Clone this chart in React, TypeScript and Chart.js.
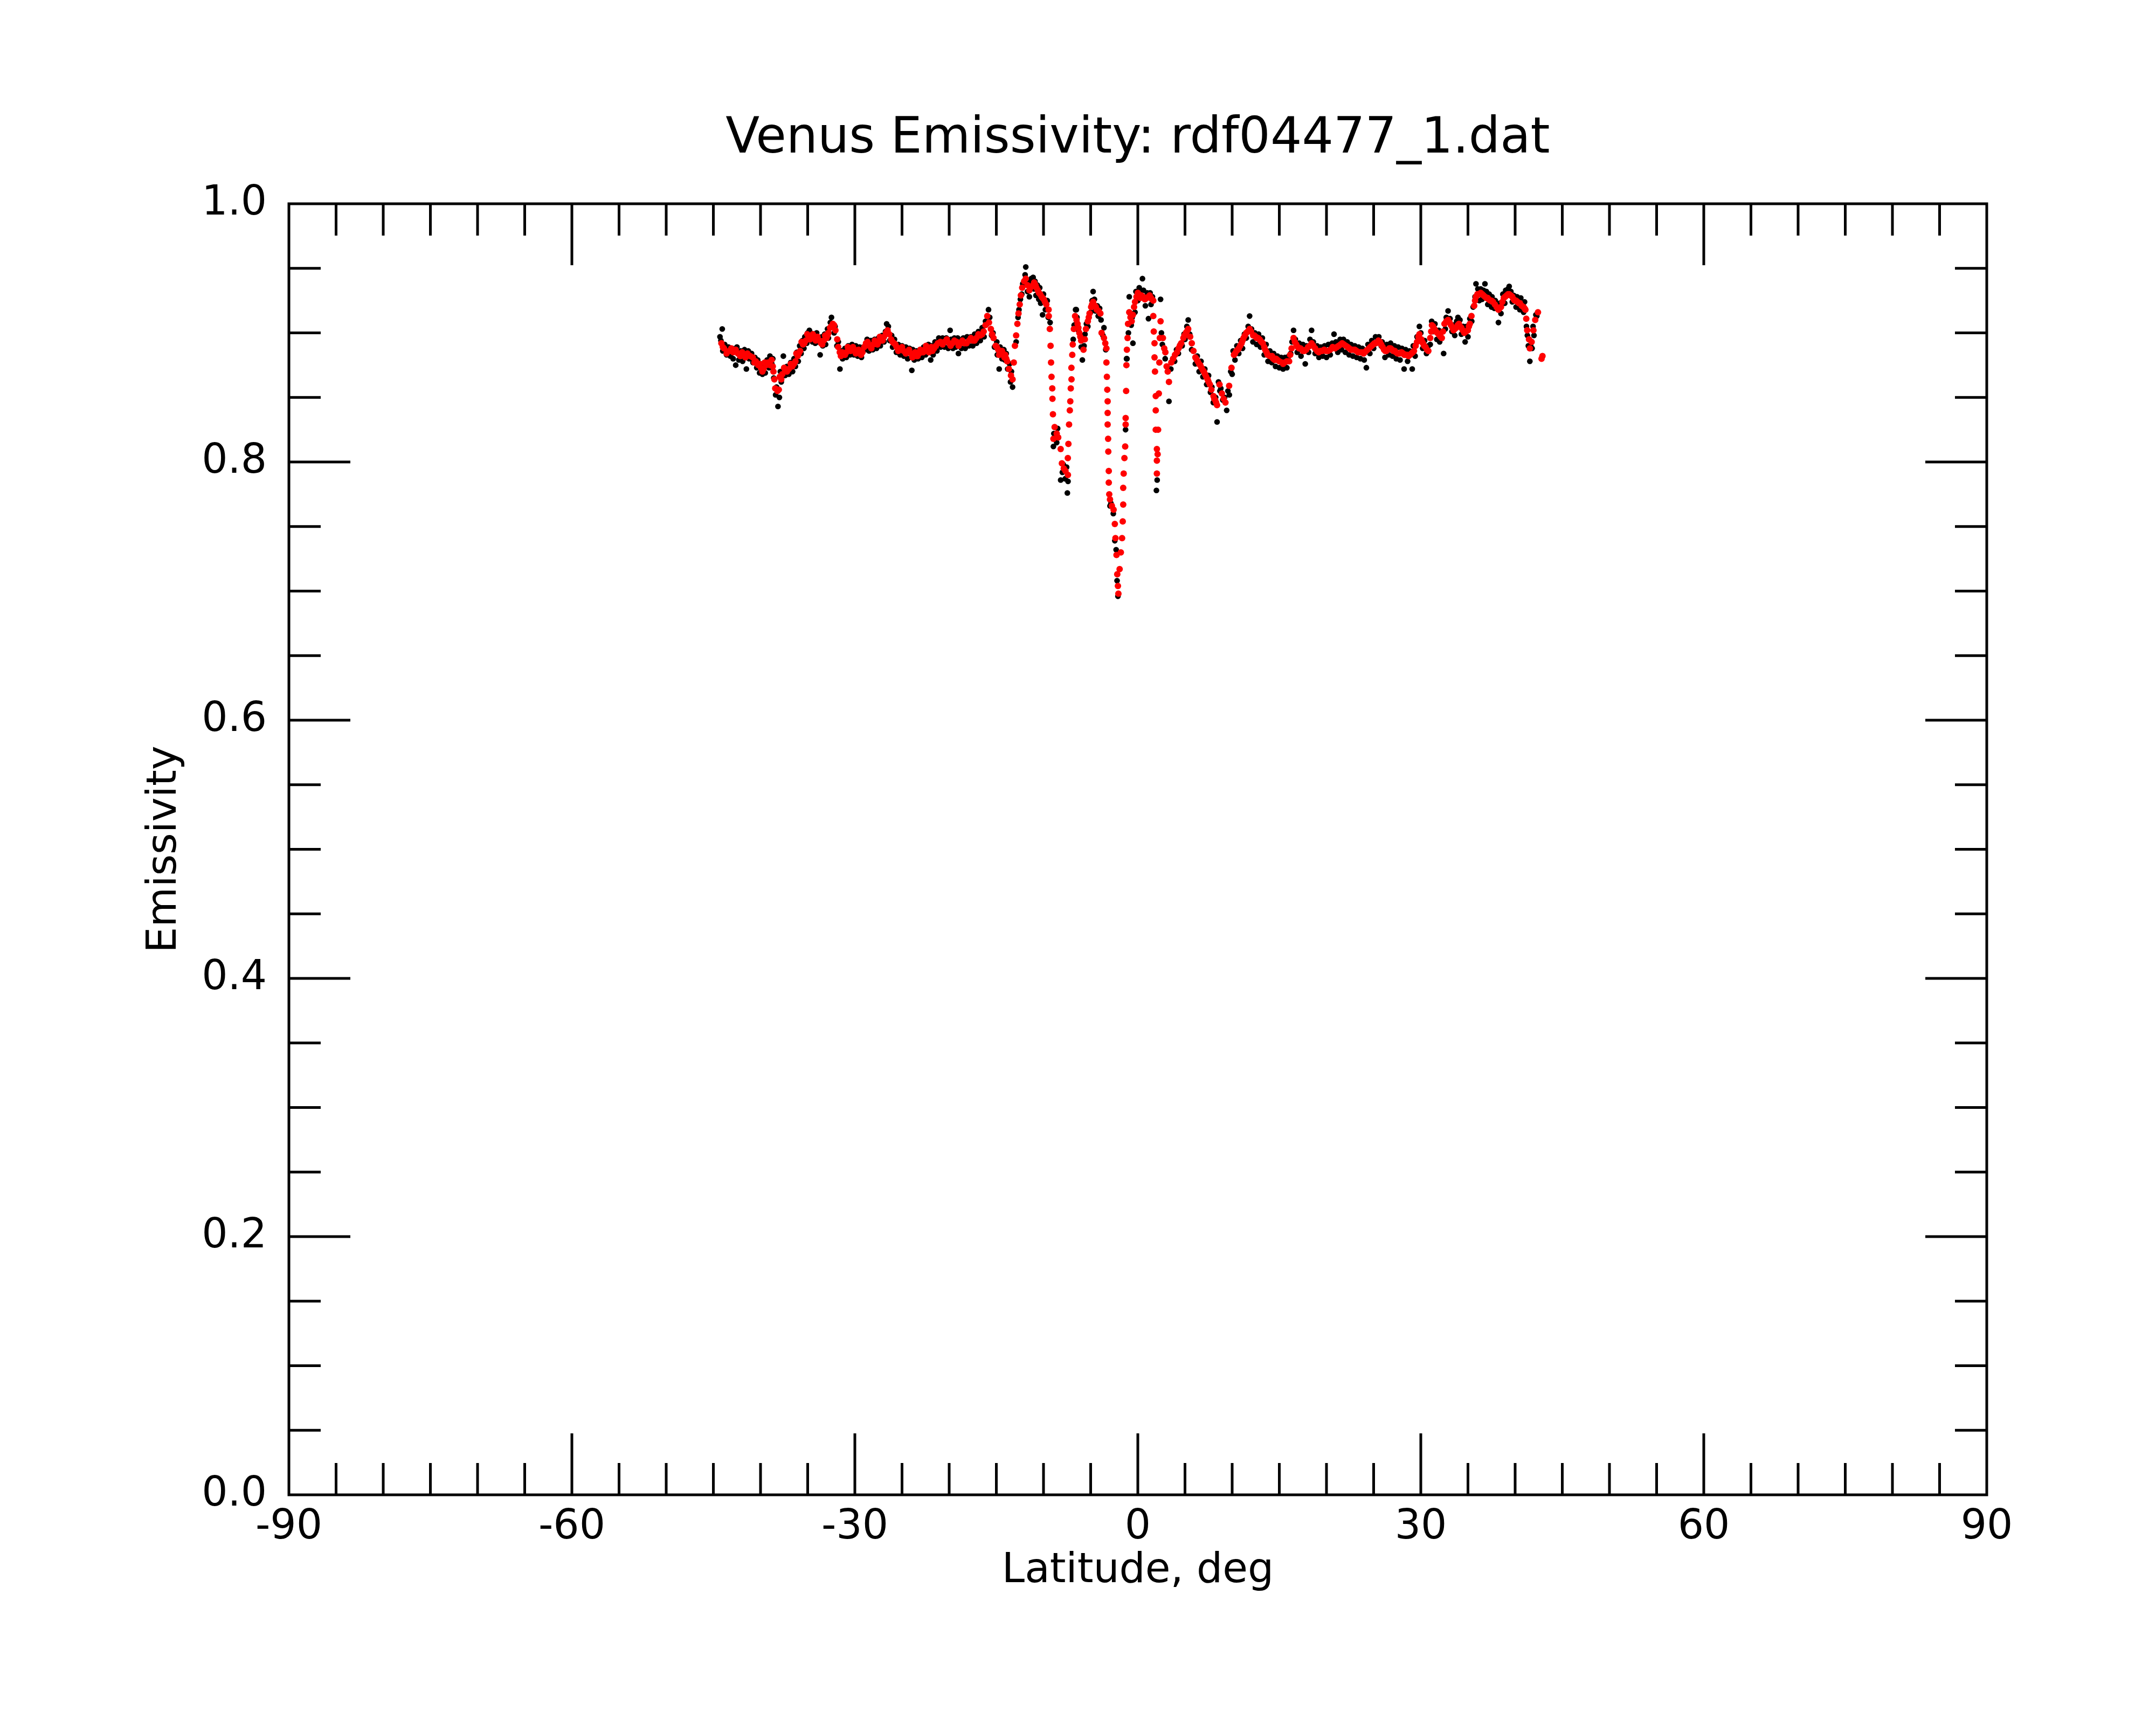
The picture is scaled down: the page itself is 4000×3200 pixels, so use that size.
import { useEffect, useRef } from "react";
import { Chart, registerables } from "chart.js";
import type { Plugin } from "chart.js";

Chart.register(...registerables);

// smoothed emissivity (red)
const redLat = [
  -44.15, -43.87, -43.3, -42.9, -42.63, -42.15, -41.8, -41.39, -40.82, -40.5, -40.25, -39.95,
  -39.68, -39.4, -39.2, -38.82, -38.63, -38.53, -38.44, -38.2, -38.06, -37.96, -37.7, -37.39,
  -37.0, -36.63, -36.3, -36.06, -35.8, -35.5, -35.2, -34.9, -34.6, -34.34, -33.96, -33.58,
  -33.3, -33.0, -32.8, -32.63, -32.34, -32.06, -31.87, -31.77, -31.48, -31.2, -30.91, -30.6,
  -30.34, -30.05, -29.77, -29.5, -29.2, -28.82, -28.45, -28.06, -27.75, -27.49, -27.2, -26.91,
  -26.53, -26.15, -25.85, -25.58, -25.2, -24.82, -24.45, -24.06, -23.75, -23.49, -23.2, -22.92,
  -22.6, -22.34, -22.0, -21.77, -21.4, -20.94, -20.5, -20.0, -19.66, -19.2, -18.8, -18.38,
  -17.9, -17.5, -17.11, -16.7, -16.34, -15.96, -15.78, -15.58, -15.3, -15.07, -14.8, -14.56,
  -14.3, -14.05, -13.85, -13.67, -13.45, -13.28, -13.15, -13.03, -12.9, -12.77, -12.65, -12.52,
  -12.4, -12.26, -12.05, -11.88, -11.7, -11.5, -11.25, -10.99, -10.75, -10.48, -10.2, -9.97,
  -9.7, -9.46, -9.44, -9.33, -9.25, -9.2, -9.15, -9.07, -9.05, -9.0, -8.95, -8.82,
  -8.6, -8.44, -8.18, -8.05, -7.85, -7.67, -7.41, -7.42, -7.36, -7.29, -7.21, -7.16,
  -7.11, -7.03, -7.04, -6.95, -6.9, -6.78, -6.65, -6.5, -6.39, -6.2, -6.01, -5.76,
  -5.62, -5.5, -5.3, -5.12, -4.95, -4.74, -4.55, -4.35, -3.97, -3.84, -3.59, -3.45,
  -3.33, -3.33, -3.28, -3.24, -3.2, -3.2, -3.2, -3.15, -3.13, -3.08, -3.08, -3.03,
  -2.95, -2.75, -2.57, -2.44, -2.37, -2.26, -2.18, -2.11, -2.06, -1.93, -1.8, -1.67,
  -1.6, -1.55, -1.55, -1.5, -1.42, -1.34, -1.29, -1.29, -1.24, -1.21, -1.16, -1.09,
  -1.04, -0.91, -0.78, -0.65, -0.52, -0.4, -0.14, 0.1, 0.37, 0.75, 1.13, 1.4,
  1.64, 1.64, 1.69, 1.77, 1.77, 1.82, 1.9, 1.9, 1.9, 2.02, 2.02, 2.02,
  2.1, 2.15, 2.23, 2.28, 2.33, 2.41, 2.66, 2.92, 3.17, 3.3, 3.55, 3.94,
  4.32, 4.6, 4.83, 5.1, 5.34, 5.72, 6.1, 6.35, 6.62, 6.9, 7.13, 7.4,
  7.64, 8.02, 8.2, 8.4, 8.66, 8.91, 9.1, 9.29, 9.68, 9.93, 10.19, 10.45,
  10.7, 11.0, 11.21, 11.5, 11.85, 12.23, 12.5, 12.74, 13.0, 13.25, 13.5, 13.76,
  14.23, 14.52, 14.8, 15.29, 15.56, 16.04, 16.3, 16.51, 16.8, 17.09, 17.4, 17.66,
  18.05, 18.42, 18.8, 19.18, 19.55, 19.94, 20.4, 20.9, 21.3, 21.66, 22.05, 22.42,
  22.8, 23.18, 23.55, 23.94, 24.2, 24.51, 24.8, 25.09, 25.4, 25.66, 25.95, 26.23,
  26.5, 26.8, 27.1, 27.37, 27.75, 28.13, 28.4, 28.7, 29.0, 29.28, 29.6, 29.85,
  30.05, 30.23, 30.5, 30.8, 31.0, 31.18, 31.45, 31.75, 32.0, 32.23, 32.51, 32.89,
  33.2, 33.47, 33.75, 34.04, 34.3, 34.61, 34.99, 35.2, 35.37, 35.66, 35.85, 36.2,
  36.51, 36.8, 37.09, 37.35, 37.66, 38.04, 38.23, 38.5, 38.8, 39.1, 39.37, 39.7,
  39.95, 40.25, 40.51, 40.89, 41.09, 41.18, 41.28, 41.47, 41.56, 41.75, 41.94, 42.13,
  42.42, 42.8, 42.9,
];
const redEmis = [
  0.892, 0.888, 0.886, 0.885, 0.887, 0.882, 0.883, 0.884, 0.881, 0.878, 0.875, 0.873,
  0.872, 0.875, 0.877, 0.879, 0.870, 0.864, 0.857, 0.855, 0.856, 0.866, 0.868, 0.871,
  0.872, 0.874, 0.878, 0.882, 0.886, 0.891, 0.894, 0.897, 0.897, 0.896, 0.897, 0.892,
  0.894, 0.896, 0.900, 0.904, 0.907, 0.902, 0.895, 0.889, 0.882, 0.884, 0.885, 0.887,
  0.888, 0.887, 0.886, 0.885, 0.885, 0.892, 0.890, 0.891, 0.892, 0.893, 0.895, 0.897,
  0.902, 0.895, 0.892, 0.889, 0.887, 0.886, 0.885, 0.884, 0.883, 0.882, 0.884, 0.885,
  0.887, 0.888, 0.887, 0.886, 0.890, 0.893, 0.893, 0.892, 0.892, 0.893, 0.892, 0.892,
  0.894, 0.894, 0.896, 0.898, 0.901, 0.913, 0.908, 0.903, 0.896, 0.890, 0.887, 0.885,
  0.884, 0.883, 0.878, 0.872, 0.867, 0.864, 0.877, 0.890, 0.898, 0.907, 0.915, 0.922,
  0.929, 0.935, 0.940, 0.942, 0.937, 0.933, 0.936, 0.939, 0.935, 0.931, 0.928, 0.926,
  0.922, 0.918, 0.913, 0.903, 0.890, 0.877, 0.866, 0.857, 0.849, 0.837, 0.818, 0.827,
  0.822, 0.819, 0.810, 0.799, 0.795, 0.793, 0.790, 0.803, 0.814, 0.829, 0.840, 0.847,
  0.857, 0.864, 0.873, 0.883, 0.891, 0.903, 0.913, 0.910, 0.907, 0.900, 0.894, 0.887,
  0.895, 0.903, 0.909, 0.915, 0.920, 0.924, 0.921, 0.918, 0.915, 0.900, 0.896, 0.892,
  0.888, 0.877, 0.866, 0.856, 0.847, 0.838, 0.829, 0.818, 0.808, 0.793, 0.784, 0.775,
  0.771, 0.766, 0.763, 0.752, 0.741, 0.728, 0.713, 0.704, 0.698, 0.717, 0.730, 0.741,
  0.754, 0.767, 0.780, 0.791, 0.803, 0.812, 0.829, 0.834, 0.855, 0.875, 0.887, 0.896,
  0.907, 0.916, 0.912, 0.909, 0.914, 0.920, 0.928, 0.929, 0.929, 0.926, 0.928, 0.927,
  0.925, 0.913, 0.901, 0.892, 0.881, 0.870, 0.851, 0.840, 0.825, 0.810, 0.801, 0.791,
  0.806, 0.825, 0.853, 0.877, 0.896, 0.909, 0.896, 0.885, 0.870, 0.862, 0.877, 0.883,
  0.888, 0.892, 0.896, 0.900, 0.903, 0.892, 0.881, 0.878, 0.875, 0.871, 0.868, 0.864,
  0.860, 0.851, 0.848, 0.844, 0.860, 0.853, 0.849, 0.846, 0.859, 0.873, 0.883, 0.886,
  0.888, 0.892, 0.896, 0.900, 0.903, 0.898, 0.897, 0.896, 0.894, 0.892, 0.887, 0.883,
  0.882, 0.879, 0.879, 0.877, 0.877, 0.878, 0.888, 0.896, 0.891, 0.888, 0.887, 0.886,
  0.889, 0.892, 0.888, 0.885, 0.886, 0.886, 0.887, 0.888, 0.890, 0.892, 0.890, 0.888,
  0.887, 0.886, 0.885, 0.884, 0.886, 0.888, 0.890, 0.892, 0.893, 0.893, 0.889, 0.886,
  0.887, 0.888, 0.886, 0.885, 0.884, 0.884, 0.883, 0.882, 0.884, 0.886, 0.893, 0.899,
  0.895, 0.892, 0.889, 0.886, 0.896, 0.906, 0.903, 0.900, 0.898, 0.896, 0.907, 0.910,
  0.906, 0.902, 0.904, 0.907, 0.904, 0.900, 0.902, 0.907, 0.913, 0.921, 0.928, 0.930,
  0.930, 0.928, 0.927, 0.925, 0.924, 0.920, 0.918, 0.920, 0.927, 0.929, 0.930, 0.928,
  0.925, 0.924, 0.923, 0.920, 0.918, 0.911, 0.902, 0.895, 0.888, 0.893, 0.902, 0.910,
  0.916, 0.880, 0.882,
];

// extra smoothed samples in the flat stretches (red)
const redFillLat = [
  -44.0, -43.6, -43.1, -42.4, -41.95, -41.6, -41.1, -40.65, -40.1, -39.8, -39.55, -39.0,
  -38.7, -37.8, -37.5, -37.2, -36.8, -36.45, -36.2, -35.95, -35.65, -35.35, -35.05, -34.75,
  -34.45, -34.15, -33.75, -33.45, -33.15, -32.9, -32.5, -32.2, -31.6, -31.35, -31.05, -30.75,
  -30.45, -30.2, -29.9, -29.6, -29.35, -29.0, -28.65, -28.25, -27.9, -27.6, -27.35, -27.05,
  -26.7, -26.35, -26.0, -25.7, -25.4, -25.0, -24.6, -24.25, -23.9, -23.6, -23.35, -23.05,
  -22.75, -22.45, -22.15, -21.9, -21.6, -21.2, -20.7, -20.25, -19.85, -19.45, -19.0, -18.6,
  -18.15, -17.7, -17.3, -16.9, -16.5, -16.15, -15.45, -14.95, -14.7, -14.4, -14.15, -13.95,
  -11.4, -11.1, -10.85, -10.6, -10.35, -10.1, -9.85, -6.3, -6.1, -5.2, -4.85, -4.45,
  -4.15, -0.3, 0.0, 0.25, 0.55, 0.95, 1.25, 1.5, 2.8, 3.05, 3.75, 4.15,
  4.45, 4.95, 5.2, 5.55, 5.9, 6.2, 6.5, 6.75, 7.0, 7.25, 7.5, 7.8,
  8.1, 8.3, 10.3, 10.6, 10.85, 11.1, 11.35, 11.65, 12.0, 12.35, 12.6, 12.9,
  13.1, 13.4, 13.65, 14.0, 14.35, 14.65, 15.0, 15.4, 15.8, 16.15, 16.65, 16.95,
  17.25, 17.5, 17.85, 18.25, 18.6, 19.0, 19.35, 19.75, 20.15, 20.65, 21.1, 21.5,
  21.85, 22.25, 22.6, 23.0, 23.35, 23.75, 24.05, 24.35, 24.65, 24.95, 25.25, 25.5,
  25.8, 26.1, 26.35, 26.65, 26.95, 27.25, 27.55, 27.95, 28.25, 28.55, 28.85, 29.15,
  29.45, 29.75, 30.15, 30.35, 30.65, 31.1, 31.3, 31.6, 31.9, 32.1, 32.35, 32.7,
  33.05, 33.35, 33.6, 33.9, 34.15, 34.45, 34.8, 35.1, 35.75, 36.0, 36.35, 36.65,
  36.95, 37.2, 37.5, 37.85, 38.15, 38.35, 38.65, 38.95, 39.25, 39.55, 39.85, 40.1,
  40.4, 40.7, 41.0,
];
const redFillEmis = [
  0.889, 0.884, 0.888, 0.884, 0.885, 0.881, 0.882, 0.877, 0.876, 0.870, 0.877, 0.875,
  0.874, 0.864, 0.873, 0.870, 0.876, 0.876, 0.884, 0.884, 0.893, 0.892, 0.899, 0.895,
  0.899, 0.894, 0.894, 0.891, 0.898, 0.898, 0.905, 0.906, 0.885, 0.885, 0.883, 0.889,
  0.886, 0.889, 0.884, 0.887, 0.883, 0.889, 0.893, 0.888, 0.894, 0.891, 0.897, 0.894,
  0.900, 0.899, 0.893, 0.891, 0.886, 0.889, 0.884, 0.887, 0.881, 0.885, 0.882, 0.887,
  0.885, 0.890, 0.885, 0.889, 0.888, 0.892, 0.891, 0.895, 0.890, 0.894, 0.890, 0.894,
  0.892, 0.896, 0.894, 0.899, 0.899, 0.906, 0.899, 0.889, 0.883, 0.886, 0.881, 0.880,
  0.935, 0.937, 0.937, 0.933, 0.930, 0.927, 0.924, 0.904, 0.897, 0.912, 0.922, 0.920,
  0.917, 0.924, 0.931, 0.927, 0.928, 0.927, 0.929, 0.926, 0.888, 0.874, 0.880, 0.885,
  0.890, 0.898, 0.901, 0.897, 0.886, 0.880, 0.876, 0.873, 0.870, 0.866, 0.862, 0.856,
  0.849, 0.846, 0.884, 0.887, 0.890, 0.894, 0.898, 0.901, 0.901, 0.898, 0.896, 0.895,
  0.893, 0.889, 0.885, 0.882, 0.880, 0.880, 0.878, 0.876, 0.878, 0.883, 0.893, 0.889,
  0.888, 0.886, 0.887, 0.890, 0.890, 0.886, 0.886, 0.887, 0.886, 0.889, 0.889, 0.891,
  0.891, 0.889, 0.887, 0.887, 0.885, 0.885, 0.885, 0.887, 0.889, 0.891, 0.892, 0.894,
  0.891, 0.887, 0.886, 0.888, 0.887, 0.886, 0.884, 0.885, 0.883, 0.883, 0.883, 0.885,
  0.890, 0.897, 0.893, 0.890, 0.887, 0.901, 0.905, 0.901, 0.899, 0.897, 0.901, 0.909,
  0.908, 0.904, 0.903, 0.906, 0.905, 0.902, 0.901, 0.905, 0.925, 0.930, 0.931, 0.929,
  0.927, 0.926, 0.925, 0.922, 0.919, 0.919, 0.924, 0.928, 0.930, 0.929, 0.926, 0.925,
  0.923, 0.921, 0.919,
];

// raw emissivity samples (black), lower side of the band and outliers
const blackLat = [
  -44.3, -44.06, -44.0, -43.6, -43.2, -42.9, -42.63, -42.3, -41.9, -41.5, -41.2, -40.8,
  -40.4, -40.1, -39.8, -39.5, -39.1, -38.8, -38.6, -38.4, -38.15, -38.0, -37.8, -37.58,
  -37.4, -37.0, -36.6, -36.3, -36.0, -35.7, -35.4, -35.1, -34.82, -34.5, -34.2, -33.9,
  -33.68, -33.4, -33.1, -32.8, -32.48, -32.2, -31.9, -31.58, -31.3, -30.9, -30.5, -30.1,
  -29.7, -29.3, -28.9, -28.5, -28.1, -27.7, -27.3, -26.9, -26.63, -26.3, -26.0, -25.6,
  -25.2, -24.8, -24.4, -23.96, -23.7, -23.3, -22.9, -22.5, -21.96, -21.7, -21.3, -20.9,
  -20.5, -20.1, -19.9, -19.6, -19.3, -19.02, -18.7, -18.3, -17.9, -17.5, -17.1, -16.7,
  -16.3, -16.0, -15.83, -15.5, -15.2, -14.9, -14.7, -14.4, -14.1, -13.8, -13.5, -13.28,
  -12.9, -12.6, -12.3, -12.1, -11.88, -11.7, -11.5, -11.3, -11.0, -10.8, -10.5, -10.3,
  -10.1, -9.8, -9.5, -8.95, -8.8, -8.6, -8.18, -8.0, -7.7, -7.47, -7.4, -6.75,
  -6.6, -6.52, -6.3, -6.0, -5.88, -5.6, -5.3, -5.0, -4.74, -4.5, -4.2, -3.9,
  -3.59, -3.4, -2.95, -2.6, -2.44, -2.2, -2.11, -1.3, -1.15, -1.0, -0.91, -0.7,
  -0.52, -0.3, 0.0, 0.25, 0.49, 0.8, 1.13, 1.4, 1.97, 2.05, 2.41, 2.6,
  2.9, 3.3, 3.5, 3.9, 4.3, 4.7, 5.0, 5.34, 5.7, 6.1, 6.5, 6.9,
  7.3, 7.7, 8.0, 8.4, 8.7, 9.0, 9.42, 9.7, 10.0, 10.3, 10.7, 11.1,
  11.5, 11.85, 12.2, 12.6, 13.0, 13.4, 13.8, 14.2, 14.6, 15.0, 15.4, 15.8,
  16.2, 16.51, 16.9, 17.3, 17.75, 18.1, 18.42, 18.8, 19.2, 19.6, 20.0, 20.4,
  20.8, 21.2, 21.6, 22.0, 22.4, 22.8, 23.2, 23.6, 24.0, 24.23, 24.6, 25.0,
  25.4, 25.8, 26.2, 26.6, 27.0, 27.4, 27.8, 28.23, 28.6, 29.09, 29.4, 29.85,
  30.2, 30.6, 31.0, 31.3, 31.7, 32.0, 32.42, 32.6, 32.89, 33.3, 33.6, 33.94,
  34.3, 34.7, 35.0, 35.4, 35.85, 36.2, 36.5, 36.8, 37.1, 37.5, 37.8, 38.23,
  38.5, 38.9, 39.37, 39.7, 40.1, 40.5, 40.9, 41.2, 41.4, 41.56, 41.8, 42.0,
  42.3,
];
const blackEmis = [
  0.897, 0.903, 0.886, 0.883, 0.882, 0.880, 0.875, 0.879, 0.878, 0.872, 0.880, 0.877,
  0.873, 0.869, 0.868, 0.869, 0.873, 0.876, 0.865, 0.852, 0.843, 0.850, 0.862, 0.882,
  0.867, 0.868, 0.870, 0.874, 0.878, 0.884, 0.888, 0.892, 0.902, 0.893, 0.892, 0.893,
  0.883, 0.890, 0.891, 0.896, 0.912, 0.900, 0.890, 0.872, 0.880, 0.881, 0.883, 0.883,
  0.882, 0.881, 0.887, 0.886, 0.887, 0.888, 0.890, 0.893, 0.907, 0.894, 0.889, 0.885,
  0.883, 0.882, 0.880, 0.871, 0.879, 0.880, 0.881, 0.883, 0.879, 0.883, 0.886, 0.889,
  0.889, 0.888, 0.902, 0.888, 0.889, 0.884, 0.888, 0.888, 0.890, 0.890, 0.892, 0.894,
  0.897, 0.907, 0.918, 0.898, 0.889, 0.883, 0.872, 0.880, 0.879, 0.872, 0.862, 0.858,
  0.893, 0.918, 0.930, 0.937, 0.951, 0.932, 0.928, 0.942, 0.934, 0.929, 0.926, 0.923,
  0.914, 0.918, 0.912, 0.812, 0.818, 0.815, 0.786, 0.792, 0.787, 0.776, 0.785, 0.906,
  0.918, 0.918, 0.902, 0.889, 0.879, 0.899, 0.905, 0.916, 0.932, 0.917, 0.913, 0.910,
  0.904, 0.887, 0.766, 0.760, 0.739, 0.708, 0.696, 0.825, 0.880, 0.900, 0.928, 0.906,
  0.892, 0.916, 0.925, 0.932, 0.942, 0.921, 0.911, 0.922, 0.778, 0.786, 0.926, 0.891,
  0.880, 0.847, 0.872, 0.878, 0.884, 0.890, 0.895, 0.910, 0.887, 0.876, 0.870, 0.866,
  0.860, 0.854, 0.846, 0.831, 0.855, 0.848, 0.840, 0.852, 0.868, 0.879, 0.884, 0.888,
  0.896, 0.913, 0.893, 0.891, 0.889, 0.883, 0.878, 0.877, 0.874, 0.873, 0.872, 0.873,
  0.884, 0.902, 0.885, 0.882, 0.876, 0.885, 0.902, 0.884, 0.881, 0.882, 0.881, 0.883,
  0.899, 0.885, 0.887, 0.885, 0.883, 0.882, 0.881, 0.880, 0.879, 0.873, 0.884, 0.888,
  0.896, 0.890, 0.881, 0.883, 0.882, 0.880, 0.879, 0.872, 0.878, 0.872, 0.882, 0.905,
  0.888, 0.884, 0.891, 0.901, 0.895, 0.893, 0.884, 0.903, 0.917, 0.901, 0.898, 0.912,
  0.899, 0.893, 0.897, 0.909, 0.938, 0.925, 0.926, 0.938, 0.922, 0.920, 0.919, 0.908,
  0.915, 0.923, 0.936, 0.924, 0.920, 0.918, 0.916, 0.905, 0.890, 0.878, 0.888, 0.898,
  0.913,
];

// raw emissivity samples (black), upper side of the band
const blackUpLat = [
  -44.2, -43.8, -43.4, -43.0, -42.5, -42.1, -41.7, -41.3, -40.95, -40.6, -40.3, -39.9,
  -39.6, -39.3, -39.0, -38.7, -38.3, -37.9, -37.2, -36.8, -36.45, -36.15, -35.85, -35.55,
  -35.3, -35.0, -34.7, -34.4, -34.05, -33.75, -33.5, -33.2, -32.9, -32.6, -32.1, -31.75,
  -31.4, -31.05, -30.7, -30.3, -29.9, -29.5, -29.1, -28.7, -28.3, -27.9, -27.5, -27.1,
  -26.75, -26.45, -26.1, -25.8, -25.4, -25.0, -24.6, -24.2, -23.85, -23.45, -23.1, -22.7,
  -22.2, -21.85, -21.5, -21.1, -20.7, -20.3, -19.8, -19.45, -19.1, -18.5, -18.1, -17.7,
  -17.3, -16.9, -16.5, -16.15, -15.7, -15.35, -14.95, -14.6, -14.2, -13.95, -13.6, -13.4,
  -12.7, -12.45, -12.2, -11.95, -11.6, -11.4, -11.1, -10.9, -10.65, -10.4, -10.0, -9.6,
  -9.3, -8.9, -8.5, -7.9, -7.55, -6.85, -6.45, -6.1, -5.7, -5.45, -5.2, -4.85,
  -4.6, -4.3, -4.05, -3.7, -2.85, -2.3, -1.2, -0.8, -0.6, -0.2, 0.15, 0.6,
  1.0, 1.3, 1.55, 2.5, 2.8, 3.1, 3.7, 4.1, 4.5, 4.9, 5.2, 5.5,
  5.9, 6.3, 6.7, 7.1, 7.5, 7.85, 8.25, 8.55, 8.8, 9.2, 9.55, 9.85,
  10.1, 10.5, 10.9, 11.3, 11.7, 12.05, 12.4, 12.8, 13.2, 13.6, 14.0, 14.4,
  14.8, 15.2, 15.6, 16.0, 16.35, 16.7, 17.1, 17.5, 17.9, 18.25, 18.6, 19.0,
  19.4, 19.8, 20.2, 20.6, 21.0, 21.45, 21.8, 22.2, 22.6, 23.0, 23.4, 23.8,
  24.4, 24.8, 25.2, 25.55, 25.9, 26.4, 26.8, 27.2, 27.6, 28.0, 28.4, 28.8,
  29.2, 29.6, 30.0, 30.4, 30.8, 31.15, 31.5, 31.9, 32.3, 32.7, 33.1, 33.45,
  33.8, 34.15, 34.5, 34.85, 35.2, 35.55, 35.75, 36.05, 36.35, 36.65, 36.95, 37.25,
  37.55, 37.9, 38.15, 38.4, 38.7, 39.0, 39.25, 39.55, 39.85, 40.2, 40.6, 41.0,
  41.3, 41.65, 41.9, 42.2,
];
const blackUpEmis = [
  0.894, 0.891, 0.889, 0.888, 0.889, 0.886, 0.887, 0.886, 0.884, 0.881, 0.879, 0.876,
  0.876, 0.879, 0.882, 0.880, 0.858, 0.870, 0.874, 0.877, 0.880, 0.885, 0.890, 0.894,
  0.897, 0.900, 0.900, 0.899, 0.900, 0.896, 0.897, 0.899, 0.903, 0.908, 0.905, 0.893,
  0.886, 0.888, 0.890, 0.891, 0.890, 0.889, 0.889, 0.895, 0.894, 0.895, 0.896, 0.898,
  0.901, 0.905, 0.898, 0.895, 0.891, 0.890, 0.889, 0.888, 0.887, 0.886, 0.887, 0.889,
  0.891, 0.890, 0.893, 0.896, 0.896, 0.896, 0.895, 0.896, 0.896, 0.896, 0.897, 0.897,
  0.899, 0.901, 0.904, 0.909, 0.912, 0.900, 0.893, 0.889, 0.887, 0.884, 0.876, 0.870,
  0.912, 0.926, 0.938, 0.945, 0.940, 0.937, 0.943, 0.940, 0.937, 0.935, 0.930, 0.925,
  0.908, 0.822, 0.826, 0.798, 0.796, 0.895, 0.912, 0.897, 0.890, 0.907, 0.912, 0.925,
  0.926, 0.921, 0.919, 0.898, 0.768, 0.732, 0.880, 0.915, 0.912, 0.932, 0.935, 0.933,
  0.931, 0.931, 0.928, 0.900, 0.888, 0.874, 0.880, 0.887, 0.891, 0.899, 0.905, 0.899,
  0.886, 0.882, 0.878, 0.872, 0.867, 0.858, 0.850, 0.862, 0.857, 0.850, 0.855, 0.870,
  0.886, 0.890, 0.894, 0.899, 0.905, 0.903, 0.900, 0.899, 0.896, 0.891, 0.886, 0.884,
  0.882, 0.881, 0.881, 0.882, 0.893, 0.895, 0.892, 0.891, 0.890, 0.895, 0.893, 0.890,
  0.889, 0.890, 0.891, 0.892, 0.893, 0.895, 0.895, 0.893, 0.891, 0.890, 0.889, 0.888,
  0.891, 0.894, 0.897, 0.897, 0.893, 0.891, 0.892, 0.890, 0.889, 0.888, 0.887, 0.886,
  0.890, 0.897, 0.900, 0.894, 0.890, 0.909, 0.907, 0.902, 0.901, 0.912, 0.911, 0.906,
  0.909, 0.910, 0.905, 0.905, 0.911, 0.920, 0.928, 0.934, 0.934, 0.933, 0.932, 0.930,
  0.928, 0.925, 0.922, 0.923, 0.930, 0.933, 0.934, 0.932, 0.929, 0.928, 0.927, 0.924,
  0.898, 0.890, 0.905, 0.914,
];

const xTicks = [-90, -60, -30, 0, 30, 60, 90];
const yTicks = [0.0, 0.2, 0.4, 0.6, 0.8, 1.0];

const W = 4000;
const H = 3200;
const FONT = "DejaVu Sans";

const framePlugin: Plugin<"scatter"> = {
  id: "idlFrame",
  afterDraw(chart) {
    const { ctx, chartArea: a } = chart;
    const xs = chart.scales.x;
    const ys = chart.scales.y;
    ctx.save();
    ctx.strokeStyle = "#000";
    ctx.fillStyle = "#000";
    ctx.lineWidth = 5;
    ctx.lineCap = "butt";
    ctx.strokeRect(a.left, a.top, a.right - a.left, a.bottom - a.top);

    // inward ticks on all four sides
    ctx.beginPath();
    for (let v = -85; v <= 85; v += 5) {
      const px = xs.getPixelForValue(v);
      const len = v % 30 === 0 ? 114 : 59;
      ctx.moveTo(px, a.bottom);
      ctx.lineTo(px, a.bottom - len);
      ctx.moveTo(px, a.top);
      ctx.lineTo(px, a.top + len);
    }
    for (let i = 1; i < 20; i++) {
      const py = ys.getPixelForValue(i * 0.05);
      const len = i % 4 === 0 ? 114 : 59;
      ctx.moveTo(a.left, py);
      ctx.lineTo(a.left + len, py);
      ctx.moveTo(a.right, py);
      ctx.lineTo(a.right - len, py);
    }
    ctx.stroke();

    const midX = (a.left + a.right) / 2;
    const midY = (a.top + a.bottom) / 2;
    ctx.textAlign = "center";
    ctx.textBaseline = "alphabetic";
    ctx.font = `92px "${FONT}"`;
    ctx.fillText("Venus Emissivity: rdf04477_1.dat", midX, 283);
    ctx.font = `76px "${FONT}"`;
    ctx.fillText("Latitude, deg", midX, 2935);
    ctx.translate(326, midY);
    ctx.rotate(-Math.PI / 2);
    ctx.fillText("Emissivity", 0, 0);
    ctx.restore();
  },
};

function EmissivityChart() {
  const canvasRef = useRef<HTMLCanvasElement>(null);
  const chartRef = useRef<Chart<"scatter"> | null>(null);

  useEffect(() => {
    if (!canvasRef.current) return;
    document.body.style.margin = "0";

    const red = [
      ...redLat.map((x, i) => ({ x, y: redEmis[i] })),
      ...redFillLat.map((x, i) => ({ x, y: redFillEmis[i] })),
    ];
    const black = [
      ...blackLat.map((x, i) => ({ x, y: blackEmis[i] })),
      ...blackUpLat.map((x, i) => ({ x, y: blackUpEmis[i] })),
    ];

    if (chartRef.current) chartRef.current.destroy();

    chartRef.current = new Chart(canvasRef.current, {
      type: "scatter",
      data: {
        datasets: [
          {
            label: "smoothed",
            data: red,
            backgroundColor: "#ff0000",
            borderWidth: 0,
            pointRadius: 6,
          },
          {
            label: "raw",
            data: black,
            backgroundColor: "#000000",
            borderWidth: 0,
            pointRadius: 5.3,
          },
        ],
      },
      options: {
        responsive: false,
        animation: false,
        devicePixelRatio: 1,
        layout: { padding: { top: 378, right: W - 3686, bottom: 0, left: 0 } },
        plugins: {
          legend: { display: false },
          tooltip: { enabled: false },
          title: { display: false },
        },
        scales: {
          x: {
            type: "linear",
            min: -90,
            max: 90,
            afterFit: (s) => {
              s.height = H - 2773;
            },
            afterBuildTicks: (s) => {
              s.ticks = xTicks.map((value) => ({ value }));
            },
            grid: { display: false, drawTicks: false },
            border: { display: false },
            ticks: {
              padding: 16,
              color: "#000",
              font: { family: FONT, size: 76 },
              maxRotation: 0,
              callback: (v) => String(v),
            },
          },
          y: {
            type: "linear",
            min: 0,
            max: 1,
            afterFit: (s) => {
              s.width = 536;
            },
            afterBuildTicks: (s) => {
              s.ticks = yTicks.map((value) => ({ value }));
            },
            grid: { display: false, drawTicks: false },
            border: { display: false },
            ticks: {
              padding: 41,
              color: "#000",
              font: { family: FONT, size: 76 },
              callback: (v) => Number(v).toFixed(1),
            },
          },
        },
      },
      plugins: [framePlugin],
    });

    return () => {
      if (chartRef.current) {
        chartRef.current.destroy();
        chartRef.current = null;
      }
    };
  }, []);

  return (
    <div style={{ width: W, height: H, background: "#fff" }}>
      <canvas ref={canvasRef} width={W} height={H} style={{ width: W, height: H }} />
    </div>
  );
}

export default function App() {
  return <EmissivityChart />;
}
